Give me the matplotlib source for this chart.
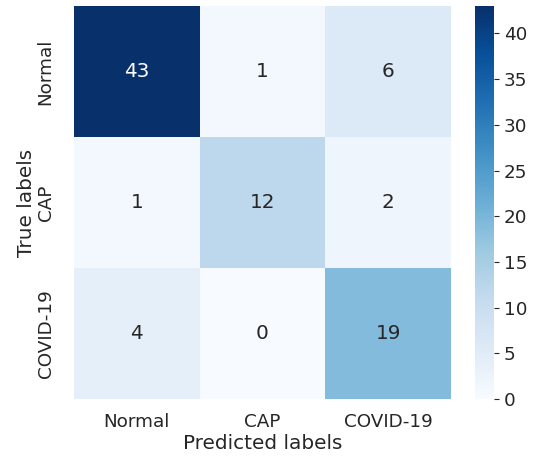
import numpy as np
import matplotlib
matplotlib.use('Agg')
import matplotlib.pyplot as plt
import seaborn as sns

labels = ['Normal', 'CAP', 'COVID-19']
cm = np.array([[43, 1, 6],
               [1, 12, 2],
               [4, 0, 19]])

sns.set(font_scale=1.2)
sns.set_style('white')
plt.rcParams['font.family'] = ['DejaVu Sans']

fig = plt.figure(figsize=(5.37, 4.57), dpi=100)
ax = fig.add_axes([74/537, (457-399)/457, (451-74)/537, (399-6)/457])
cax = fig.add_axes([475/537, (457-399)/457, (494-475)/537, (399-6)/457])

sns.heatmap(cm, annot=True, fmt='d', cmap='Blues', ax=ax, cbar_ax=cax)
ax.set_xlabel('Predicted labels', labelpad=2)
ax.set_ylabel('True labels', labelpad=0.5)
ax.xaxis.set_ticklabels(labels)
ax.yaxis.set_ticklabels(labels, rotation=90, va='center')
ax.tick_params(axis='x', length=0, pad=10)
ax.tick_params(axis='y', length=0, pad=14)
cax.tick_params(length=3.5, width=0.8, color='#262626')

plt.savefig('out.png', dpi=100)
